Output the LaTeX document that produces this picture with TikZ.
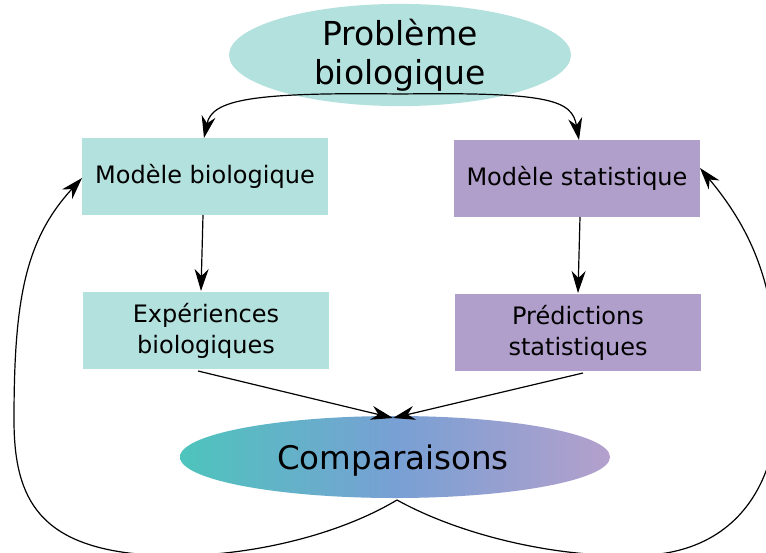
\documentclass[tikz,border=0pt]{standalone}
\usepackage{fontspec}
\setmainfont{DejaVu Sans}
\usetikzlibrary{shapes.geometric,arrows.meta}
\definecolor{teal1}{RGB}{179,225,222}
\definecolor{purp1}{RGB}{177,159,203}
\definecolor{gleft}{RGB}{78,196,188}
\definecolor{gmid}{RGB}{120,160,212}
\definecolor{gright}{RGB}{180,160,204}
\tikzset{
  box/.style={rectangle,minimum width=246pt,minimum height=77pt,inner sep=0pt,align=center,font=\fontsize{24}{31}\selectfont},
  tealbox/.style={box,fill=teal1},
  purpbox/.style={box,fill=purp1},
  conn/.style={line width=1.2pt,-{Stealth[length=22pt,width=14pt,inset=7pt]}},
}
\begin{document}
\begin{tikzpicture}[x=1pt,y=-1pt]
\useasboundingbox (0,0) rectangle (766,552);
\clip (0,0) rectangle (766,552);
\node[ellipse,fill=teal1,minimum width=342pt,minimum height=76pt,inner sep=0pt,align=center,font=\fontsize{33}{39}\selectfont] (prob) at (400,55) {Problème\\biologique};
\node[tealbox] (mb) at (205,176.5) {Modèle biologique};
\node[purpbox] (ms) at (577,178.5) {Modèle statistique};
\node[tealbox] (eb) at (206,330.5) {Expériences\\biologiques};
\node[purpbox] (ps) at (578,332.5) {Prédictions\\statistiques};
\node[ellipse,left color=gleft,right color=gright,middle color=gmid,minimum width=430pt,minimum height=82pt,inner sep=0pt] (cmp) at (395,457) {};
\node[inner sep=0pt,font=\fontsize{32.5}{36}\selectfont] (cmptext) at (393,461) {Comparaisons};
\coordinate (pt) at (400,94);
\coordinate (ct) at (393,418);
\coordinate (cb) at (397,500);
\draw[conn] (pt) .. controls (250,92) and (212,100) .. (204,138);
\draw[conn] (pt) .. controls (550,92) and (572,100) .. (579,140);
\draw[conn] (203,215) -- (201,291);
\draw[conn] (580,217) -- (578,293);
\draw[conn] (198,371) -- (ct);
\draw[conn] (583,373) -- (ct);
\draw[conn] (cb) .. controls (330,540) and (230,560) .. (150,555) .. controls (40,548) and (14,500) .. (14,420) .. controls (14,300) and (25,240) .. (82,178);
\draw[conn] (cb) .. controls (460,535) and (560,560) .. (650,555) .. controls (740,548) and (778,480) .. (778,400) .. controls (778,300) and (760,240) .. (700,168);
\end{tikzpicture}
\end{document}
